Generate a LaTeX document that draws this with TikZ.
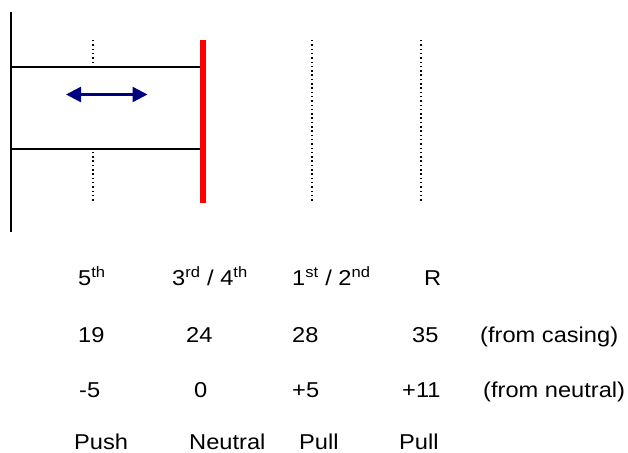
\documentclass[tikz,border=0pt]{standalone}
\usepackage{fontspec}
\setmainfont[FakeStretch=1.1]{Liberation Sans}
\usetikzlibrary{arrows.meta}
\definecolor{arrowblue}{RGB}{0,0,128}
\tikzset{
  lbl/.style={anchor=base west, inner sep=0pt, font=\fontsize{21.5}{24}\selectfont},
  guide/.style={line width=1.5pt, dash pattern=on 1.5pt off 2.8pt},
  casing/.style={line width=1.5pt},
  boxst/.style={draw, fill=white, line width=1.4pt},
  redline/.style={red, line width=5.5pt},
  moveArrow/.style={arrowblue, line width=2.4pt, {Triangle[length=15pt,width=15pt]}-{Triangle[length=15pt,width=15pt]}}
}
\newcommand{\sups}[1]{\textsuperscript{#1}}
\begin{document}
\begin{tikzpicture}[x=1pt,y=-1pt]
\useasboundingbox (0,0) rectangle (628,452);
% guide lines
\draw[guide] (93,40) -- (93,203);
\draw[guide] (312,40) -- (312,203);
\draw[guide] (421,40) -- (421,203);
% casing wall
\draw[casing] (11,12) -- (11,232);
% box
\draw[boxst] (11,67) rectangle (202,149);
% red line
\draw[redline] (203,40) -- (203,203);
% arrow
\coordinate (aL) at (66,94.5);
\coordinate (aR) at (147.5,94.5);
\draw[moveArrow] (aL) -- (aR);
% row 1
\node[lbl] (g5) at (78,285) {5\sups{th}};
\node[lbl] (g34) at (172,285) {3\sups{rd} / 4\sups{th}};
\node[lbl] (g12) at (292,285) {1\sups{st} / 2\sups{nd}};
\node[lbl] (gR) at (424,285) {R};
% row 2
\node[lbl] (c19) at (78,342) {19};
\node[lbl] (c24) at (186,342) {24};
\node[lbl] (c28) at (292,342) {28};
\node[lbl] (c35) at (412,342) {35};
\node[lbl] (cfc) at (480,342) {(from casing)};
% row 3
\node[lbl] (n5) at (79,397) {-5};
\node[lbl] (n0) at (194,397) {0};
\node[lbl] (np5) at (292,397) {+5};
\node[lbl] (np11) at (402,397) {+11};
\node[lbl] (nfn) at (483,397) {(from neutral)};
% row 4
\node[lbl] (pPush) at (74,449) {Push};
\node[lbl] (pNeu) at (189,449) {Neutral};
\node[lbl] (pP1) at (299,449) {Pull};
\node[lbl] (pP2) at (399,449) {Pull};
\end{tikzpicture}
\end{document}
